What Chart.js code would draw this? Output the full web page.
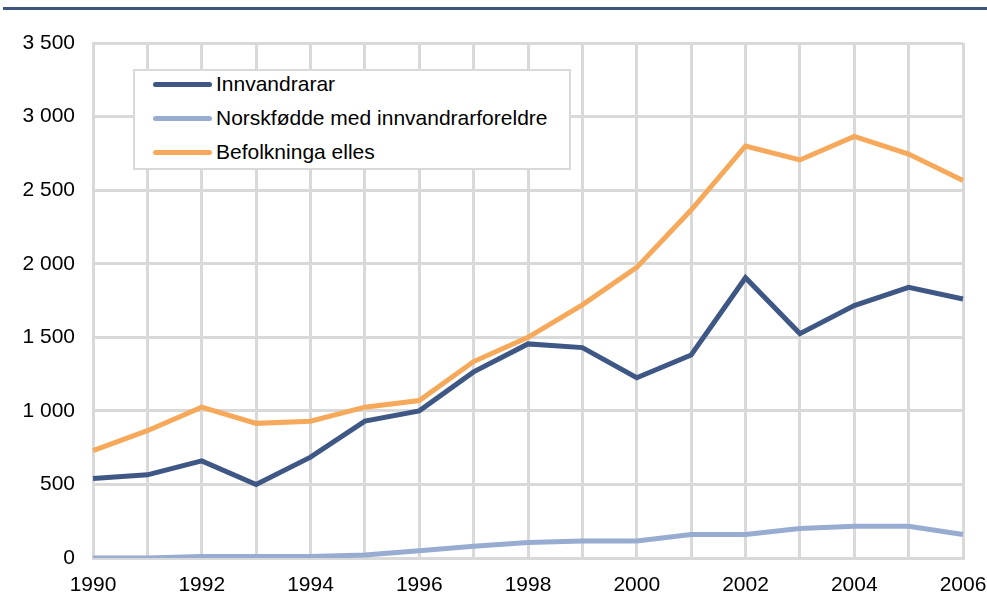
<!DOCTYPE html>
<html>
<head>
<meta charset="utf-8">
<script src="https://cdn.jsdelivr.net/npm/chart.js@4/dist/chart.umd.min.js"></script>
<style>
  html, body { margin: 0; padding: 0; background: #fff; }
  #wrap { position: relative; width: 987px; height: 594px; }
  #topline { position: absolute; left: 3px; top: 7px; width: 984px; height: 3px; background: #3f5580; }
  #legend {
    position: absolute; left: 133px; top: 69px; width: 434px; height: 97px;
    border: 2px solid #d9d9d9; background: #fff;
    font-family: "Liberation Sans", Arial, sans-serif; font-size: 21px; color: #000;
  }
  .row { position: absolute; left: 0; height: 24px; display: flex; align-items: center; white-space: nowrap; }
  .swatch { width: 59px; height: 5px; border-radius: 3px; margin-left: 18px; margin-right: 4px; }
</style>
</head>
<body>
<div id="wrap">
  <canvas id="chart" width="987" height="594"></canvas>
  <div id="topline"></div>
  <div id="legend"></div>
</div>
<script>
  // data
  const years = ['1990', '1991', '1992', '1993', '1994', '1995', '1996', '1997', '1998',
    '1999', '2000', '2001', '2002', '2003', '2004', '2005', '2006'];
  const innvandrarar = [540, 565, 660, 500, 685, 930, 1000, 1265, 1455, 1430, 1225, 1380, 1905, 1525, 1715, 1840, 1760];
  const norskfodde = [0, 0, 10, 10, 10, 20, 50, 80, 105, 115, 115, 160, 160, 200, 215, 215, 160];
  const befolkninga = [730, 865, 1025, 915, 930, 1025, 1070, 1335, 1500, 1720, 1975, 2365, 2800, 2705, 2865, 2745, 2565];
  const seriesNames = ['Innvandrarar', 'Norskfødde med innvandrarforeldre', 'Befolkninga elles'];
  const seriesColors = ['#3e5785', '#98acd2', '#f7a95b'];

  const fmt = v => String(v).replace(/\B(?=(\d{3})+(?!\d))/g, ' ');
  const font = { family: '"Liberation Sans", Arial, sans-serif', size: 21 };

  const series = [innvandrarar, norskfodde, befolkninga];
  const datasets = series.map((d, i) => ({
    label: seriesNames[i],
    data: d,
    borderColor: seriesColors[i],
    borderWidth: 5,
    pointRadius: 0,
    tension: 0,
    fill: false,
    order: 2 - i
  }));

  new Chart(document.getElementById('chart').getContext('2d'), {
    type: 'line',
    data: { labels: years, datasets },
    options: {
      responsive: false,
      animation: false,
      layout: { padding: { top: 43, right: 0, left: 0, bottom: 0 } },
      plugins: { legend: { display: false }, tooltip: { enabled: false } },
      scales: {
        x: {
          offset: false,
          grid: { color: '#d9d9d9', lineWidth: 3, drawTicks: false },
          border: { color: '#d9d9d9', width: 3 },
          ticks: {
            autoSkip: false, maxRotation: 0, padding: 15, color: '#000', font,
            callback: (v, i) => (i % 2 === 0 ? years[i] : '')
          },
          afterFit: s => { s.height = 36; s.paddingLeft = 0; s.paddingRight = 24; }
        },
        y: {
          min: 0, max: 3500,
          grid: { color: '#d9d9d9', lineWidth: 3, drawTicks: false },
          border: { color: '#d9d9d9', width: 3 },
          ticks: { stepSize: 500, padding: 18, color: '#000', font, callback: v => fmt(v) },
          afterFit: s => { s.width = 93; }
        }
      }
    }
  });

  // legend inside the plot
  const leg = document.getElementById('legend');
  seriesNames.forEach((name, i) => {
    const row = document.createElement('div');
    row.className = 'row';
    row.style.top = (1 + i * 34) + 'px';
    row.innerHTML = '<div class="swatch" style="background:' + seriesColors[i] + '"></div><span>' + name + '</span>';
    leg.appendChild(row);
  });
</script>
</body>
</html>
